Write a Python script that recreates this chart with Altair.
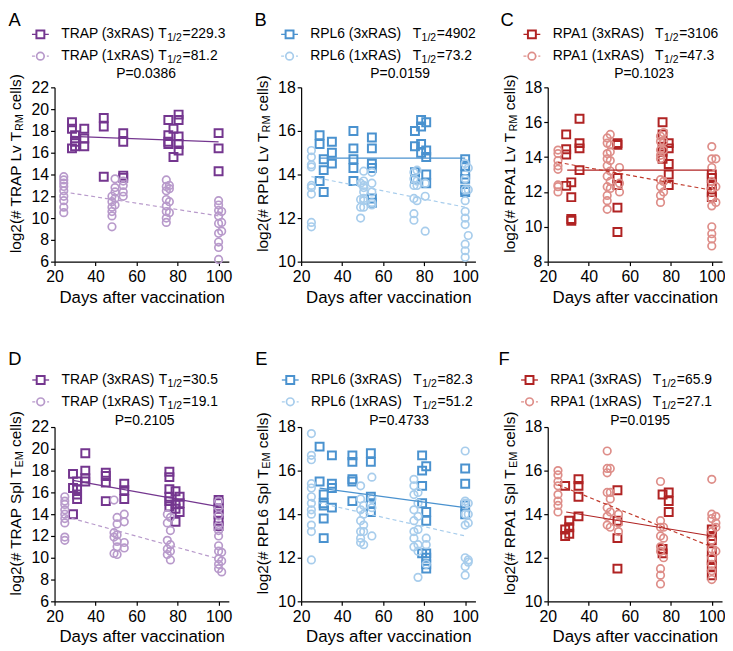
import altair as alt
import pandas as pd

FONT = "Liberation Sans"

# ---------------- data ----------------
X_TICKS = [20, 40, 60, 80, 100]

# Panel A: TRAP, liver TRM
A_sq = {28.5: [18.8, 18.2, 16.4], 30: [17.6, 17.0, 16.6], 34.5: [18.2, 17.3, 16.6],
        44: [19.2, 18.4, 13.8], 53.5: [17.8, 17.0, 13.9, 13.7],
        75.5: [19.0, 17.6, 17.0, 16.8], 78: [18.2, 15.6], 80.5: [19.5, 19.0, 17.5, 16.8, 16.2],
        100: [17.8, 16.4, 14.3]}
A_ci = {24.5: [13.8, 13.5, 13.2, 12.9, 12.5, 12.0, 11.6, 11.0, 10.5],
        48: [12.0, 11.5, 11.0, 10.6, 10.2, 9.2], 49.5: [13.6, 12.8, 12.4, 11.8, 11.2],
        53.5: [13.4, 13.0, 12.4, 12.0],
        74.5: [13.5, 12.9, 12.5, 11.7, 11.1, 10.6, 10.0, 9.6], 76: [13.0, 12.7, 11.5, 10.5],
        100: [11.6, 11.2, 10.7, 10.2, 9.5, 8.6, 7.8, 7.3, 6.2], 101.5: [10.6, 9.6, 8.8]}
A_fit_sq = [(28.5, 17.5), (100, 17.0)]
A_fit_ci = [(24.5, 12.4), (100, 10.2)]

# Panel B: RPL6, liver TRM
B_sq = {29: [15.8, 15.4, 13.7], 31: [14.7, 14.2, 13.2], 35: [15.5, 15.0, 14.5],
        45.5: [16.0, 15.2, 14.7, 14.3, 13.7], 54.5: [15.7, 15.2, 14.5, 14.3, 12.9, 12.7],
        75.5: [16.0, 15.3, 14.1, 13.8], 78.5: [16.5, 16.2, 15.4, 15.0],
        81: [16.4, 15.1, 14.8, 14.0, 13.6], 100: [14.7, 14.4, 14.0, 13.8, 13.3, 13.2]}
B_ci = {25: [15.1, 14.8, 14.45, 14.35, 13.5, 13.4, 13.1, 11.8, 11.6],
        49: [13.6, 12.85, 12.5, 12.0], 50.5: [14.15, 13.7, 13.5, 13.4, 13.2, 12.9, 12.8, 12.5],
        54.5: [14.1, 13.6, 13.2, 12.7, 12.6],
        75: [14.1, 13.8, 13.5, 12.9, 12.2, 11.9], 76.5: [14.2, 13.7, 13.5, 12.8],
        80.5: [13.6, 13.0, 11.4],
        100: [14.5, 13.8, 13.3, 12.8, 12.3, 12.0, 11.7, 10.8, 10.5, 10.2], 101.5: [14.3, 13.3, 11.2]}
B_fit_sq = [(29, 14.75), (100, 14.75)]
B_fit_ci = [(25, 13.9), (100, 12.5)]

# Panel C: RPA1, liver TRM
C_sq = {29: [15.3, 14.45, 14.15, 12.35], 31.5: [12.55, 11.7, 10.45, 10.35], 35.5: [16.2, 14.8, 14.5, 13.25],
        54: [14.8, 14.7, 12.8, 12.4, 11.1, 9.7], 76: [16.0, 15.3, 14.6, 14.3, 13.9],
        79: [14.8, 14.5, 13.6, 13.0, 12.4], 100: [13.0, 12.8, 12.4, 12.0, 11.7]}
C_ci = {25: [14.4, 14.2, 13.8, 13.5, 13.3, 12.4, 12.3, 12.0],
        49: [15.1, 14.8, 14.2, 13.9, 13.5, 12.9, 12.3, 11.8, 11.5, 11.0],
        50.5: [15.3, 14.7, 14.3, 13.8, 13.2, 12.6, 12.2], 55: [13.4, 12.5, 12.0],
        75: [15.2, 14.9, 14.4, 14.1, 13.9, 12.7, 12.3, 11.8, 11.4], 76.5: [15.4, 14.9, 14.4, 12.6, 12.0],
        100: [14.6, 13.9, 13.4, 12.6, 12.2, 11.6, 11.2, 10.0, 9.6, 9.3, 8.9], 102: [13.9, 12.3, 11.4]}
C_fit_sq = [(29.5, 13.25), (100, 13.25)]
C_fit_ci = [(25, 13.7), (100, 12.1)]

# Panel D: TRAP, spleen TEM
D_sq = {29: [17.7, 16.4, 14.0], 31: [17.0, 16.3, 15.8, 15.4], 35: [19.6, 18.0, 17.3, 17.0],
        45: [17.8, 17.5, 16.9, 15.2], 54: [16.8, 16.2, 15.4],
        76: [17.9, 17.4, 16.3, 15.6, 15.2, 14.7], 79: [16.1, 14.9, 14.5, 13.3], 81: [15.6, 15.0, 14.2],
        100: [15.3, 15.0, 14.5, 14.0, 13.4, 12.9]}
D_ci = {25: [15.6, 15.2, 14.9, 14.4, 14.0, 13.6, 13.2, 11.9, 11.6],
        49: [15.3, 12.3, 11.9, 10.4], 50.5: [13.7, 13.1, 12.1, 11.5, 11.0, 10.3],
        54: [14.0, 13.3, 11.4, 10.9],
        75: [14.0, 13.2, 11.6, 10.8, 10.3], 76.5: [13.7, 12.5, 11.2, 10.6, 9.8],
        100: [15.2, 14.6, 13.9, 13.0, 12.5, 12.0, 11.1, 10.6, 9.9, 9.4, 9.0], 101.5: [10.5, 9.7, 8.7]}
D_fit_sq = [(29, 17.1), (100, 14.7)]
D_fit_ci = [(25, 13.8), (100, 9.9)]

# Panel E: RPL6, spleen TEM
E_sq = {29: [17.1, 15.5], 31: [14.9, 14.5, 14.4, 13.8, 12.9], 35: [16.7, 15.4, 15.2, 14.3],
        45: [16.7, 16.4, 15.6, 15.5, 14.6], 54: [16.8, 16.4, 14.8, 14.5, 14.1],
        79: [16.7, 16.0, 15.3, 14.5, 12.2], 81: [16.2, 14.1, 13.7, 12.2, 12.0, 11.7, 11.5],
        100: [16.1, 15.4, 14.4, 14.0]}
E_ci = {25: [17.7, 16.7, 16.5, 15.4, 15.2, 14.8, 14.5, 14.2, 14.0, 13.5, 13.2, 11.9],
        49: [15.3, 14.7, 14.2, 13.7, 13.2, 12.9, 12.7], 50.5: [14.4, 14.0, 13.5, 13.2, 12.6],
        54.5: [15.7, 14.7, 14.3, 13.0],
        75: [15.6, 15.3, 14.9, 14.2, 13.7, 13.2, 12.9, 12.5], 77: [15.0, 14.5, 13.9, 13.3, 12.6, 12.3, 11.1],
        81: [12.9, 12.6, 11.7],
        100: [16.9, 14.6, 14.5, 14.0, 13.5, 12.0, 11.6, 11.2], 101.5: [14.5, 14.0, 13.6, 11.9, 11.8]}
E_fit_sq = [(29, 15.2), (100, 14.3)]
E_fit_ci = [(25, 14.6), (100, 13.0)]

# Panel F: RPA1, spleen TEM
F_sq = {28.5: [15.3, 13.3, 13.0], 30.5: [13.7, 13.4, 13.1], 35: [15.6, 15.3, 14.8, 13.9],
        54: [15.1, 13.7, 12.9, 11.5], 76: [14.9, 12.4, 12.2], 79: [15.0, 14.6, 14.1],
        100: [13.3, 13.0, 12.8, 12.3, 11.9, 11.6, 11.2]}
F_ci = {25: [16.0, 15.8, 15.5, 15.3, 14.9, 14.6, 14.4, 14.1],
        49: [16.9, 16.1, 15.9, 15.0, 14.3, 13.9, 13.5], 50.5: [16.1, 15.0, 14.7, 14.1, 13.4],
        54.5: [14.0, 13.6, 13.2],
        75: [15.5, 13.7, 13.4, 13.0, 12.5, 12.3, 11.5, 11.2, 10.8], 76.5: [13.4, 12.9, 12.0],
        100: [15.6, 14.0, 13.8, 13.2, 12.8, 12.4, 12.0, 11.7, 11.4, 11.0], 102: [13.9, 13.6, 13.4, 12.3]}
F_fit_sq = [(29, 14.1), (100, 13.0)]
F_fit_ci = [(25, 15.35), (100, 12.5)]

# labels
NAMES = ["TRAP", "RPL6", "RPA1", "TRAP", "RPL6", "RPA1"]
TISSUE = ["Lv", "Lv", "Lv", "Spl", "Spl", "Spl"]
CELL = ["RM", "RM", "RM", "EM", "EM", "EM"]
LETTERS = ["A", "B", "C", "D", "E", "F"]
T_HALF_3X = ["229.3", "4902", "3106", "30.5", "82.3", "65.9"]
T_HALF_1X = ["81.2", "73.2", "47.3", "19.1", "51.2", "27.1"]
P_VALUES = ["0.0386", "0.0159", "0.1023", "0.2105", "0.4733", "0.0195"]
Y_DOMAINS = [(6, 22), (10, 18), (8, 18), (6, 22), (10, 18), (10, 18)]

# ---------------- styling ----------------
COLORS = {
    "TRAP": ("#74368F", "#B89ACB", "#B89ACB"),
    "RPL6": ("#4A92CF", "#A8CDEC", "#A8CDEC"),
    "RPA1": ("#B02323", "#DE8E89", "#C0392B"),
}
GAP = {"TRAP": 4.0, "RPL6": 11.5, "RPA1": 10.0}
# x offsets relative to plot origin: legend marker, panel letter (centre), P text (centre)
LAYOUT = [(-14.3, -40.3, 92.4), (-11.7, -40.9, 100), (-16, -41, 97.3),
          (-14, -40, 91), (-11, -40.2, 99), (-18.4, -44, 93.3)]
ROW_Y = [(-68, -53.5, -31.5, -13.5), (-69, -47.5, -25.5, -6)]
W, H = 176, 176
COL_GAP = 73
ROW_GAP = 167
SQ_SIZE, CI_SIZE = 64, 58

CW = {' ': 278, '#': 556, '(': 333, ')': 333, '.': 278, '/': 278, '=': 584,
      'A': 667, 'E': 667, 'L': 556, 'M': 833, 'P': 667, 'R': 722, 'S': 667, 'T': 611,
      'c': 500, 'e': 556, 'g': 556, 'l': 222, 'o': 556, 'p': 556, 's': 500, 'v': 500, 'x': 500}


def tw(s, size):
    return sum(CW.get(c, 556) for c in s) * size / 1000.0


def one():
    return alt.Data(values=[{"k": 0}])


def txt(x, y, s, size=14, align="left", angle=0, color="black"):
    mk = dict(text=s, font=FONT, fontSize=size, align=align, baseline="middle", color=color)
    if angle:
        mk["angle"] = angle
    return alt.Chart(one()).mark_text(**mk).encode(x=alt.value(x), y=alt.value(y))


def to_df(d):
    return pd.DataFrame([{"day": k, "val": v} for k, vs in d.items() for v in vs])


def fit_df(pts):
    return pd.DataFrame({"day": [p[0] for p in pts], "val": [p[1] for p in pts]})


def panel(i, sq, ci, fit_sq, fit_ci):
    name = NAMES[i]
    dark, light, dash = COLORS[name]
    y0, y1 = Y_DOMAINS[i]
    X = alt.X("day:Q", scale=alt.Scale(domain=[20, 105], nice=False, zero=False),
              axis=alt.Axis(values=X_TICKS, title="Days after vaccination"))
    Y = alt.Y("val:Q", scale=alt.Scale(domain=[y0, y1], nice=False, zero=False),
              axis=alt.Axis(values=list(range(y0, y1 + 1, 2)), title=None))
    layers = [
        alt.Chart(to_df(sq)).mark_point(shape="square", filled=False, size=SQ_SIZE, strokeWidth=2,
                                        color=dark, opacity=1).encode(x=X, y=Y),
        alt.Chart(to_df(ci)).mark_point(shape="circle", filled=False, size=CI_SIZE, strokeWidth=1.7,
                                        color=light, opacity=1).encode(x=X, y=Y),
        alt.Chart(fit_df(fit_sq)).mark_line(color=dark, strokeWidth=1.2).encode(x=X, y=Y),
        alt.Chart(fit_df(fit_ci)).mark_line(color=dash, strokeWidth=1.2, strokeDash=[4, 3]).encode(x=X, y=Y),
    ]
    mx, lx, px = LAYOUT[i]
    ly, r1, r2, py = ROW_Y[i // 3]
    layers.append(txt(lx, ly, LETTERS[i], size=18.5, align="center"))
    # legend
    for ry, tag, shape, col, segcol, seg_dash, th in [
        (r1, "3xRAS", "square", dark, dark, None, T_HALF_3X[i]),
        (r2, "1xRAS", "circle", light, light, [3, 2], T_HALF_1X[i]),
    ]:
        rule_kw = dict(color=segcol, strokeWidth=1.3)
        if seg_dash:
            rule_kw["strokeDash"] = seg_dash
        layers.append(alt.Chart(one()).mark_rule(**rule_kw).encode(
            x=alt.value(mx - 8.5), x2=alt.value(mx + 8.5), y=alt.value(ry)))
        layers.append(alt.Chart(one()).mark_point(
            shape=shape, filled=True, fill="white", stroke=col, strokeWidth=2 if shape == "square" else 1.7,
            size=SQ_SIZE if shape == "square" else CI_SIZE, opacity=1).encode(x=alt.value(mx), y=alt.value(ry)))
        label = f"{name} ({tag})"
        tx = mx + 21
        layers.append(txt(tx, ry, label))
        t_x = tx + tw(label, 14) + GAP[name]
        layers.append(txt(t_x, ry, "T"))
        s_x = t_x + tw("T", 14) + 0.5
        layers.append(txt(s_x, ry + 4, "1/2", size=10.5))
        v_x = s_x + tw("1/2", 10.5) + 0.8
        layers.append(txt(v_x, ry, "=" + th))
    layers.append(txt(px, py, "P=" + P_VALUES[i], align="center"))
    # y-axis title with subscript
    s1 = f"log2(# {name} {TISSUE[i]} T"
    sub = CELL[i]
    s3 = "cells)"
    fs, fsub = 15.5, 11
    w1, ws, wsp, w3 = tw(s1, fs), tw(sub, fsub), tw(" ", fs), tw(s3, fs)
    total = w1 + ws + wsp + w3
    yc, xc = 77, -38.5
    ystart = yc + total / 2
    layers.append(txt(xc, ystart, s1, size=fs, angle=270))
    layers.append(txt(xc + 4, ystart - w1, sub, size=fsub, angle=270))
    layers.append(txt(xc, ystart - w1 - ws - wsp, s3, size=fs, angle=270))
    return alt.layer(*layers).properties(width=W, height=H)


pA = panel(0, A_sq, A_ci, A_fit_sq, A_fit_ci)
pB = panel(1, B_sq, B_ci, B_fit_sq, B_fit_ci)
pC = panel(2, C_sq, C_ci, C_fit_sq, C_fit_ci)
pD = panel(3, D_sq, D_ci, D_fit_sq, D_fit_ci)
pE = panel(4, E_sq, E_ci, E_fit_sq, E_fit_ci)
pF = panel(5, F_sq, F_ci, F_fit_sq, F_fit_ci)

top = alt.hconcat(pA, pB, pC, spacing=COL_GAP, bounds="flush")
bot = alt.hconcat(pD, pE, pF, spacing=COL_GAP, bounds="flush")

# with flush bounds the nested rows count with no height, so the row pitch is height + gap
chart = alt.vconcat(top, bot, spacing=H + ROW_GAP, bounds="flush").properties(
    padding={"left": 0, "top": 0, "right": 0, "bottom": 0}
).configure_axis(
    labelFont=FONT, labelFontSize=16, labelColor="black", labelFlush=False,
    titleFont=FONT, titleFontSize=17, titleColor="black", titleFontWeight="normal",
    domainColor="black", tickColor="black", domainWidth=1.2, tickWidth=1.2,
    tickSize=4, labelPadding=2, grid=False,
).configure_axisX(labelPadding=3, titlePadding=5).configure_view(stroke=None)

chart.save("out.html", embed_options={"renderer": "svg", "actions": False})
